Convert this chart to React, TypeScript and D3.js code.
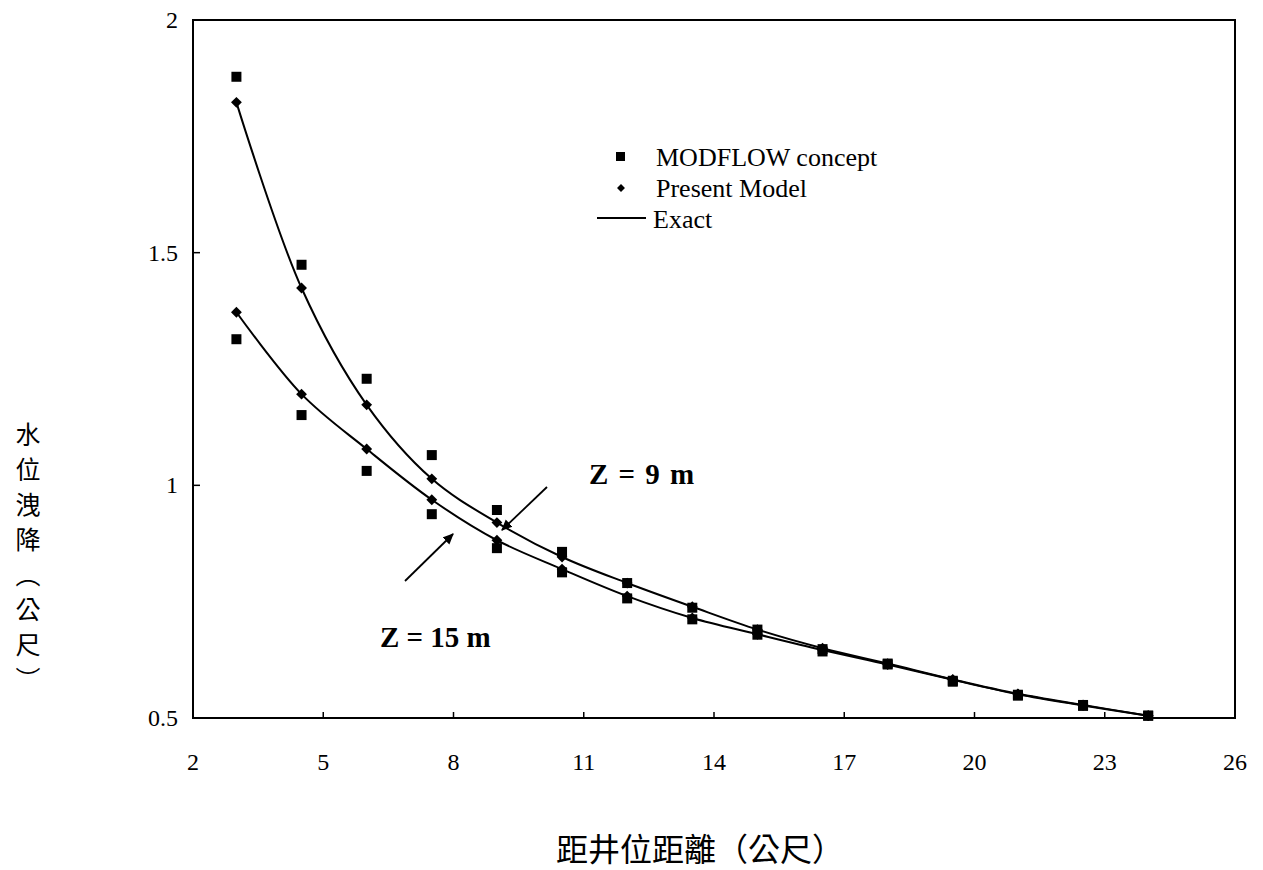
import React, { useEffect, useRef } from "react";
import * as d3 from "d3";

// distances from well (m)
const distances = [3, 4.5, 6, 7.5, 9, 10.5, 12, 13.5, 15, 16.5, 18, 19.5, 21, 22.5, 24];

// Z = 9 m
const presentZ9 = [1.823, 1.424, 1.173, 1.014, 0.92, 0.846, 0.79, 0.739, 0.69, 0.65, 0.617, 0.583, 0.552, 0.528, 0.505];
const modflowZ9 = [1.878, 1.474, 1.229, 1.065, 0.947, 0.857, 0.79, 0.737, 0.69, 0.648, 0.617, 0.58, 0.55, 0.528, 0.505];

// Z = 15 m
const presentZ15 = [1.372, 1.196, 1.078, 0.969, 0.882, 0.82, 0.762, 0.715, 0.68, 0.646, 0.615, 0.582, 0.551, 0.527, 0.505];
const modflowZ15 = [1.314, 1.151, 1.031, 0.938, 0.865, 0.813, 0.757, 0.712, 0.679, 0.643, 0.615, 0.578, 0.548, 0.526, 0.505];

const xTicks = [2, 5, 8, 11, 14, 17, 20, 23, 26];
const yTicks = [0.5, 1, 1.5, 2];

const serif = "'Liberation Serif', 'Times New Roman', serif";
const cjk = "'Noto Sans CJK TC', 'Noto Sans CJK SC', sans-serif";

function App() {
  const svgRef = useRef<SVGSVGElement>(null);

  useEffect(() => {
    const svg = d3.select(svgRef.current);
    svg.selectAll("*").remove();

    const left = 193, right = 1235, top = 20, bottom = 718;

    const x = d3.scaleLinear().domain([2, 26]).range([left, right]);
    const y = d3.scaleLinear().domain([0.5, 2]).range([bottom, top]);

    // frame
    svg.append("rect")
      .attr("x", left).attr("y", top)
      .attr("width", right - left).attr("height", bottom - top)
      .attr("fill", "none").attr("stroke", "#000").attr("stroke-width", 2);

    // inward ticks
    svg.append("g").selectAll("line")
      .data(xTicks.slice(1, -1))
      .join("line")
      .attr("x1", d => x(d)).attr("x2", d => x(d))
      .attr("y1", bottom).attr("y2", bottom - 6)
      .attr("stroke", "#000").attr("stroke-width", 1.5);

    svg.append("g").selectAll("line")
      .data(yTicks.slice(1, -1))
      .join("line")
      .attr("x1", left).attr("x2", left + 7)
      .attr("y1", d => y(d)).attr("y2", d => y(d))
      .attr("stroke", "#000").attr("stroke-width", 1.5);

    // tick labels
    svg.append("g").selectAll("text")
      .data(xTicks)
      .join("text")
      .attr("x", d => x(d)).attr("y", 770)
      .attr("text-anchor", "middle")
      .attr("font-family", serif).attr("font-size", 24)
      .text(d => d);

    svg.append("g").selectAll("text")
      .data(yTicks)
      .join("text")
      .attr("x", 178).attr("y", d => y(d) + 8)
      .attr("text-anchor", "end")
      .attr("font-family", serif).attr("font-size", 24)
      .text(d => d);

    // exact curves
    const line = d3.line<number>()
      .x((d, i) => x(distances[i]))
      .y(d => y(d))
      .curve(d3.curveCatmullRom.alpha(0.5));

    [presentZ9, presentZ15].forEach(series => {
      svg.append("path")
        .datum(series)
        .attr("d", line)
        .attr("fill", "none")
        .attr("stroke", "#000")
        .attr("stroke-width", 2);
    });

    // MODFLOW squares
    [modflowZ9, modflowZ15].forEach(series => {
      svg.append("g").selectAll("rect")
        .data(series)
        .join("rect")
        .attr("x", (d, i) => x(distances[i]) - 5)
        .attr("y", d => y(d) - 5)
        .attr("width", 10).attr("height", 10)
        .attr("fill", "#000");
    });

    // Present model diamonds
    const diamond = d3.symbol().type(d3.symbolDiamond2).size(75);
    [presentZ9, presentZ15].forEach(series => {
      svg.append("g").selectAll("path")
        .data(series)
        .join("path")
        .attr("transform", (d, i) => `translate(${x(distances[i])},${y(d)})`)
        .attr("d", diamond)
        .attr("fill", "#000");
    });

    // legend
    const lg = svg.append("g").attr("font-family", serif).attr("font-size", 26);
    lg.append("rect").attr("x", 616).attr("y", 152).attr("width", 9).attr("height", 9).attr("fill", "#000");
    lg.append("text").attr("x", 656).attr("y", 166).text("MODFLOW concept");
    lg.append("path").attr("transform", "translate(621,188)").attr("d", d3.symbol().type(d3.symbolDiamond2).size(40)).attr("fill", "#000");
    lg.append("text").attr("x", 656).attr("y", 197).text("Present Model");
    lg.append("line").attr("x1", 597).attr("x2", 646).attr("y1", 218).attr("y2", 218).attr("stroke", "#000").attr("stroke-width", 2);
    lg.append("text").attr("x", 653).attr("y", 228).text("Exact");

    // annotations
    const defs = svg.append("defs");
    defs.append("marker")
      .attr("id", "arrow")
      .attr("viewBox", "0 0 10 10")
      .attr("refX", 9).attr("refY", 5)
      .attr("markerWidth", 11).attr("markerHeight", 11)
      .attr("markerUnits", "userSpaceOnUse")
      .attr("orient", "auto")
      .append("path").attr("d", "M0,0.5 L10,5 L0,9.5 Z").attr("fill", "#000");

    svg.append("line")
      .attr("x1", 547).attr("y1", 487).attr("x2", 502).attr("y2", 530)
      .attr("stroke", "#000").attr("stroke-width", 1.8).attr("marker-end", "url(#arrow)");
    svg.append("line")
      .attr("x1", 405).attr("y1", 581).attr("x2", 453).attr("y2", 534)
      .attr("stroke", "#000").attr("stroke-width", 1.8).attr("marker-end", "url(#arrow)");

    svg.append("text")
      .attr("x", 589).attr("y", 484)
      .attr("font-family", serif).attr("font-size", 29).attr("font-weight", "bold")
      .attr("word-spacing", 3)
      .text("Z = 9 m");
    svg.append("text")
      .attr("x", 380).attr("y", 647)
      .attr("font-family", serif).attr("font-size", 29).attr("font-weight", "bold")
      .text("Z = 15 m");

    // axis titles
    svg.append("text")
      .attr("x", 28).attr("y", 422)
      .style("writing-mode", "vertical-rl")
      .attr("letter-spacing", 10)
      .attr("font-family", cjk).attr("font-size", 25)
      .text("水位洩降（公尺）");

    svg.append("text")
      .attr("x", 700).attr("y", 861)
      .attr("text-anchor", "middle")
      .attr("font-family", cjk).attr("font-size", 32)
      .text("距井位距離（公尺）");
  }, []);

  return (
    <svg ref={svgRef} width={1263} height={870}
      style={{ position: "absolute", left: 0, top: 0, background: "#fff" }} />
  );
}

export default App;
